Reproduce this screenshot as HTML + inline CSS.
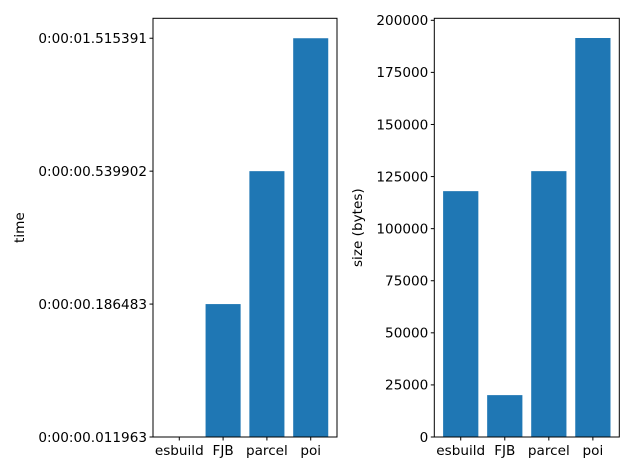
<!DOCTYPE html>
<html><head><meta charset="utf-8"><style>
html,body{margin:0;padding:0;background:#fff;}
svg{display:block;font-family:"DejaVu Sans","Liberation Sans",sans-serif;font-size:13.6px;}
</style></head><body>
<svg id="chart" width="633" height="475"></svg>
<script>
const categories = ["esbuild","FJB","parcel","poi"];
const timeLabels = ["0:00:00.011963","0:00:00.186483","0:00:00.539902","0:00:01.515391"];
const timeIndex = [0,1,2,3];
const sizeValues = [118000,20100,127600,191500];
const sizeTicks = [0,25000,50000,75000,100000,125000,150000,175000,200000];

const NS="http://www.w3.org/2000/svg";
const svg=document.getElementById('chart');
function mk(tag,attrs,parent){const e=document.createElementNS(NS,tag);for(const k in attrs)e.setAttribute(k,attrs[k]);(parent||svg).appendChild(e);return e;}

function panel(name,L,R,T,B,ymax,vals,ticks,tickLabel,ylabel,ylabelX){
  const g=mk('g',{});
  
  
  const xs=i=>L+(i+0.6)*(R-L)/4.2;
  const ys=v=>B-v*(B-T)/ymax;
  const bw=0.8*(R-L)/4.2;
  vals.forEach((v,i)=>{
    const r=mk('rect',{x:xs(i)-bw/2,y:ys(v),width:bw,height:Math.max(0,B-ys(v)),fill:'#1f77b4'},g);
    
    
  });
  const frame=mk('rect',{x:L,y:T,width:R-L,height:B-T,fill:'none',stroke:'#000','stroke-width':1},g);
  
  
  categories.forEach((c,i)=>{
    mk('line',{x1:xs(i),x2:xs(i),y1:B,y2:B+3.5,stroke:'#000'},g);
    const t=mk('text',{x:xs(i),y:B+18,'text-anchor':'middle',fill:'#000'},g);
    t.textContent=c;
    
    
  });
  ticks.forEach((v,i)=>{
    mk('line',{x1:L-3.5,x2:L,y1:ys(v),y2:ys(v),stroke:'#000'},g);
    const t=mk('text',{x:L-6,y:ys(v)+4.8,'text-anchor':'end',fill:'#000'},g);
    t.textContent=tickLabel(i);
    
    
  });
  const yl=mk('text',{x:ylabelX,y:(T+B)/2,'text-anchor':'middle',fill:'#000',transform:`rotate(-90 ${ylabelX} ${(T+B)/2})`},g);
  yl.textContent=ylabel;
  
  
}
panel('time-chart',153,337,18.3,437,3.15,timeIndex,timeIndex,i=>timeLabels[i],'time',24);
panel('size-chart',434.3,619.3,18.3,437,200000*(437-18.3)/(437-20.3),sizeValues,sizeTicks,i=>String(sizeTicks[i]),'size (bytes)',362);
</script>
</body></html>
